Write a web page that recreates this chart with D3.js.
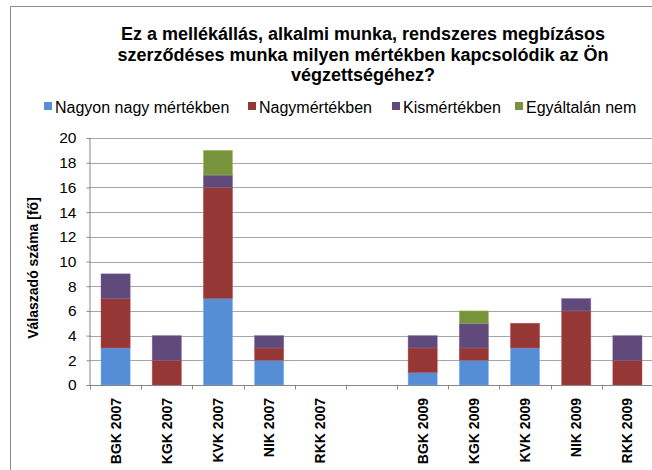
<!DOCTYPE html>
<html><head><meta charset="utf-8">
<script src="https://cdn.jsdelivr.net/npm/d3@7"></script>
<style>html,body{margin:0;padding:0;background:#fff;}svg{display:block;font-family:"Liberation Sans",Arial,sans-serif;}</style>
</head><body>
<svg id="c" width="652" height="470"></svg>
<script>
const categories = ["BGK 2007","KGK 2007","KVK 2007","NIK 2007","RKK 2007","","BGK 2009","KGK 2009","KVK 2009","NIK 2009","RKK 2009"];
const seriesNames = ["Nagyon nagy mértékben","Nagymértékben","Kismértékben","Egyáltalán nem"];
const nagyonNagy   = [3,0,7,2,0,0,1,2,3,0,0];
const nagy         = [4,2,9,1,0,0,2,1,2,6,2];
const kis          = [2,2,1,1,0,0,1,2,0,1,2];
const egyaltalan   = [0,0,2,0,0,0,0,1,0,0,0];
const colors = ["#558ED5","#953735","#604A7B","#77933C"];
const yTicks = [0,2,4,6,8,10,12,14,16,18,20];
const titleLines = ["Ez a mellékállás, alkalmi munka, rendszeres megbízásos","szerződéses munka milyen mértékben kapcsolódik az Ön","végzettségéhez?"];
const yLabel = "Válaszadó száma [fő]";

const svg = d3.select("#c");
// frame
svg.append("path").attr("d","M10.5,470 V6.5 H652").attr("fill","none").attr("stroke","#8c8c8c").attr("stroke-width",1);

const x = d3.scaleBand().domain(categories).range([90,653]).padding(0);
const y = d3.scaleLinear().domain([0,20]).range([385,138]);

// gridlines
svg.append("g").selectAll("line").data(yTicks.filter(d=>d>0)).join("line")
  .attr("x1",90).attr("x2",652).attr("y1",d=>Math.round(y(d))+0.5).attr("y2",d=>Math.round(y(d))+0.5)
  .attr("stroke","#a6a6a6").attr("stroke-width",1.2);

// data stack
const rows = categories.map((c,i)=>({cat:c, s0:nagyonNagy[i], s1:nagy[i], s2:kis[i], s3:egyaltalan[i]}));
const stack = d3.stack().keys(["s0","s1","s2","s3"])(rows);
const bw = x.bandwidth()*0.57;
stack.forEach((layer,k)=>{
  svg.append("g").selectAll("rect").data(layer.filter(d=>d[1]-d[0]>0)).join("rect")
    .attr("x",d=>x(d.data.cat)+(x.bandwidth()-bw)/2)
    .attr("width",bw)
    .attr("y",d=>y(d[1]))
    .attr("height",d=>y(d[0])-y(d[1]))
    .attr("fill",colors[k])
    .attr("stroke",d3.color(colors[k]).brighter(0.8)).attr("stroke-width",0.6).attr("stroke-opacity",0.7);
});

// y axis
const ya = svg.append("g").attr("transform","translate(90.5,0)")
  .call(d3.axisLeft(y).tickValues(yTicks).tickSize(4).tickPadding(10).tickFormat(d3.format("d")));
ya.select(".domain").attr("stroke","#868686").attr("d","M-0.5,"+y(20)+"V"+(y(0)+0.5));
ya.selectAll(".tick line").attr("stroke","#868686");
ya.selectAll(".tick text").attr("font-size",15.5).attr("fill","#000").attr("font-family","Liberation Sans, Arial, sans-serif");

// x axis
const xa = svg.append("g").attr("transform","translate(0,"+(Math.round(y(0))+0.5)+")");
xa.append("line").attr("x1",90).attr("x2",652).attr("stroke","#868686");
xa.selectAll("line.tk").data(categories.map((c,i)=>i)).join("line").attr("class","tk")
  .attr("x1",i=>Math.round(90+i*x.step())+0.5).attr("x2",i=>Math.round(90+i*x.step())+0.5)
  .attr("y1",0).attr("y2",4).attr("stroke","#868686");
xa.selectAll("text").data(categories.filter(c=>c!=="")).join("text")
  .attr("transform",c=>"translate("+(x(c)+x.bandwidth()/2+5)+",12.5) rotate(-90)")
  .attr("text-anchor","end").attr("font-size",14).attr("font-weight","bold").text(c=>c);

// y label
svg.append("text").attr("transform","translate(38,268) rotate(-90)")
  .attr("text-anchor","middle").attr("font-size",14).attr("font-weight","bold").text(yLabel);

// title
svg.append("g").selectAll("text").data(titleLines).join("text")
  .attr("x",363).attr("y",(d,i)=>40+i*20.5).attr("text-anchor","middle")
  .attr("font-size",18).attr("font-weight","bold").text(d=>d);

// legend
const legX = [44,248,392,515];
const lg = svg.append("g").selectAll("g").data(seriesNames).join("g").attr("transform",(d,i)=>"translate("+legX[i]+",0)");
lg.append("rect").attr("x",0).attr("y",102).attr("width",8).attr("height",8).attr("fill",(d,i)=>colors[i]);
lg.append("text").attr("x",11).attr("y",113).attr("font-size",16).text(d=>d);
</script>
</body></html>
